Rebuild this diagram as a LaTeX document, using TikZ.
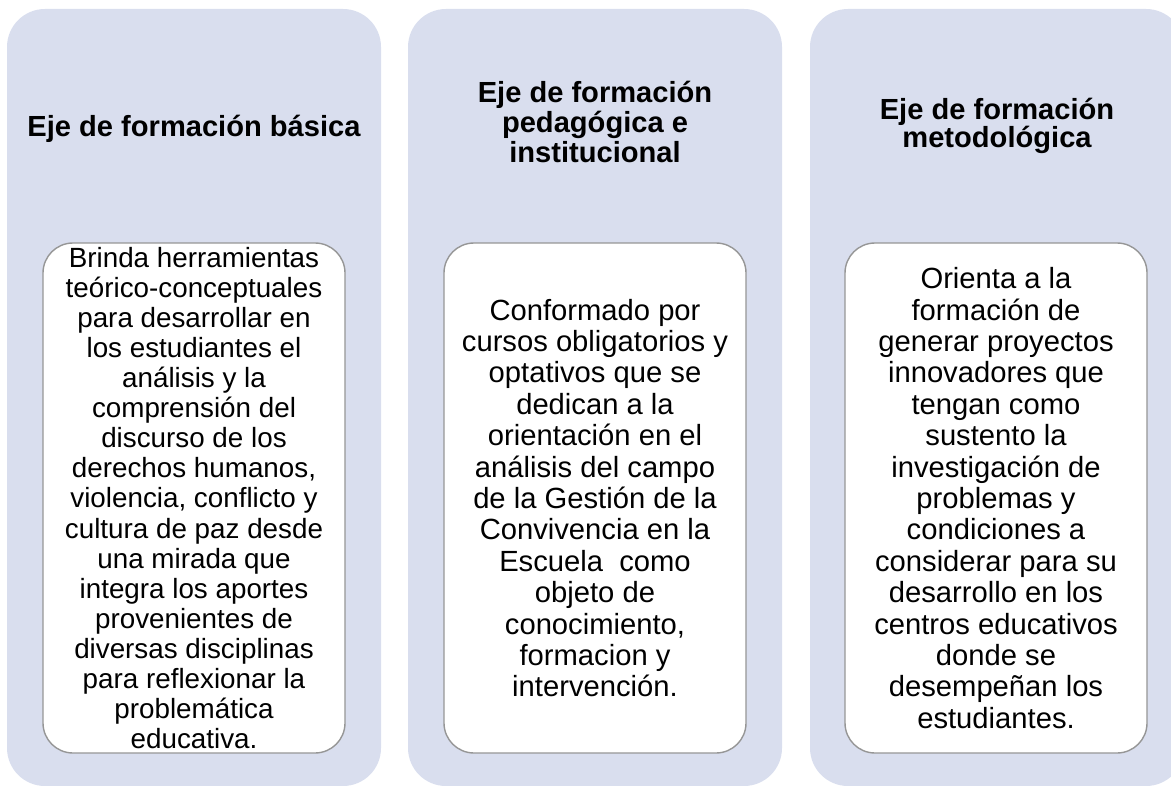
\documentclass[tikz,border=0pt]{standalone}
\usepackage{fontspec}
\setmainfont{Liberation Sans}
\usepackage{tikz}
\definecolor{colfill}{RGB}{217,222,238}
\definecolor{descline}{RGB}{150,150,150}
\tikzstyle{col}=[rectangle, rounded corners=19pt, fill=colfill, minimum width=187pt, minimum height=388.5pt, inner sep=0pt]
\tikzstyle{head}=[align=center, inner sep=0pt, font=\bfseries\fontsize{14.55}{14.5}\selectfont]
\tikzstyle{desc}=[rectangle, rounded corners=15pt, draw=descline, line width=0.7pt, fill=white, minimum width=151pt, minimum height=255pt, inner sep=0pt, align=center, font=\fontsize{14.6}{15.7}\selectfont]
\newcommand{\colY}{397.5}
\newcommand{\descY}{498}

\begin{document}
\begin{tikzpicture}[x=0.5pt, y=-0.5pt]
	\useasboundingbox (0,0) rectangle (1171,786);
	\node[col] (colA) at (194,\colY) {};
	\node[col] (colB) at (595,\colY) {};
	\node[col] (colC) at (997,\colY) {};
	
	%The titles of the three axes
	\node[head] (headA) at (194,129) {Eje de formación básica};
	\node[head, font=\bfseries\fontsize{14.55}{15}\selectfont] (headB) at (595,122) {Eje de formación\\pedagógica e\\institucional};
	\node[head, font=\bfseries\fontsize{14.55}{14.15}\selectfont] (headC) at (997,126) {Eje de formación\\metodológica};
	
	%The description boxes
	\node[desc, font=\fontsize{13.9}{15.05}\selectfont] (descA) at (194,\descY) {Brinda herramientas\\teórico-conceptuales\\para desarrollar en\\los estudiantes el\\análisis y la\\comprensión del\\discurso de los\\derechos humanos,\\violencia, conflicto y\\cultura de paz desde\\una mirada que\\integra los aportes\\provenientes de\\diversas disciplinas\\para reflexionar la\\problemática\\educativa.};
	\node[desc] (descB) at (595,\descY) {Conformado por\\cursos obligatorios y\\optativos que se\\dedican a la\\orientación en el\\análisis del campo\\de la Gestión de la\\Convivencia en la\\Escuela\ \ como\\objeto de\\conocimiento,\\formacion y\\intervención.};
	\node[desc] (descC) at (996,\descY) {Orienta a la\\formación de\\generar proyectos\\innovadores que\\tengan como\\sustento la\\investigación de\\problemas y\\condiciones a\\considerar para su\\desarrollo en los\\centros educativos\\donde se\\desempeñan los\\estudiantes.};
\end{tikzpicture}
\end{document}
